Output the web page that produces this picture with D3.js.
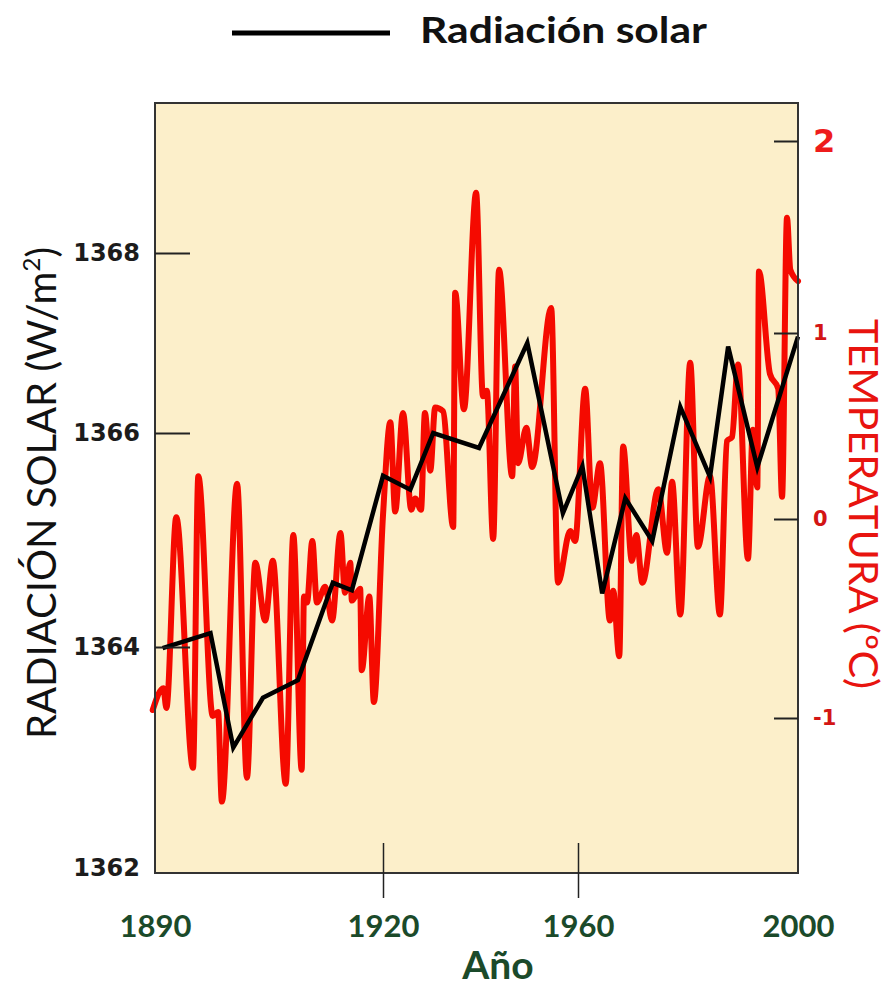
<!DOCTYPE html>
<html lang="es">
<head>
<meta charset="UTF-8">
<title>Radiación solar y temperatura</title>
<script src="https://d3js.org/d3.v7.min.js"></script>
<style>
    body { margin: 0; background: #fff; }
    svg { display: block; }
    .calibri { font-family: Lato, "Open Sans", sans-serif; }
    .verdana { font-family: "DejaVu Sans", sans-serif; font-weight: bold; }
</style>
</head>
<body>
<svg id="chart" width="888" height="989"></svg>
<script>
// Años y valores de radiación solar (W/m2), línea negra
const solarYears = [1891.0, 1897.3, 1900.3, 1904.2, 1908.8, 1913.4, 1915.9, 1920.0, 1925.6, 1930.3,
    1939.7, 1949.6, 1956.9, 1960.8, 1964.4, 1968.6, 1973.5, 1978.6, 1984.0, 1987.3, 1992.6, 2000.0];
const solarValues = [1363.99, 1364.13, 1363.09, 1363.54, 1363.70, 1364.60, 1364.53, 1365.60, 1365.47, 1366.00,
    1365.86, 1367.00, 1365.25, 1365.69, 1364.50, 1365.39, 1364.99, 1366.29, 1365.59, 1366.96, 1365.68, 1367.07];

// Años y anomalía de temperatura (ºC), línea roja
const tempYears = [1889.7, 1891.1, 1891.5, 1892.8, 1895.0, 1895.7, 1897.6, 1898.3, 1898.8, 1900.8,
    1902.1, 1903.2, 1904.5, 1905.5, 1907.2, 1908.2, 1909.3, 1909.6, 1910.0, 1910.7,
    1911.3, 1912.4, 1913.3, 1914.4, 1915.0, 1915.7, 1915.9, 1917.0, 1917.2, 1918.2,
    1918.8, 1920.0, 1921.5, 1922.5, 1924.1, 1925.8, 1926.6, 1927.8, 1928.6, 1929.7,
    1930.7, 1932.3, 1934.4, 1934.8, 1936.6, 1939.1, 1940.5, 1941.3, 1942.6, 1943.8,
    1946.5, 1947.1, 1947.7, 1949.4, 1950.6, 1954.5, 1955.9, 1958.4, 1959.4, 1961.3,
    1962.6, 1964.0, 1965.8, 1966.4, 1967.5, 1968.2, 1969.8, 1970.6, 1971.7, 1974.6,
    1976.2, 1977.1, 1978.6, 1980.4, 1981.8, 1984.0, 1985.8, 1987.1, 1988.0, 1989.1,
    1990.9, 1991.8, 1992.6, 1992.9, 1994.9, 1996.4, 1997.1, 1998.0, 1998.6, 2000.0];
const tempValues = [-0.96, -0.85, -0.95, 0.01, -1.25, 0.23, -0.99, -0.97, -1.42, 0.19,
    -1.30, -0.22, -0.51, -0.21, -1.33, -0.08, -1.26, -0.39, -0.42, -0.11,
    -0.42, -0.34, -0.51, -0.07, -0.37, -0.22, -0.41, -0.35, -0.76, -0.39,
    -0.92, 0.02, 0.52, 0.04, 0.57, 0.05, 0.11, 0.05, 0.57, 0.26,
    0.60, 0.58, -0.04, 1.21, 0.59, 1.73, 0.66, 0.69, -0.10, 1.33,
    0.23, 0.82, 0.30, 0.49, 0.28, 1.13, -0.32, -0.06, -0.11, 0.70,
    0.06, 0.30, -0.51, -0.36, -0.69, 0.39, -0.21, -0.08, -0.32, 0.16,
    -0.17, 0.20, -0.48, 0.84, -0.14, 0.23, -0.48, 0.42, 0.44, 0.83,
    -0.20, 0.48, 0.17, 1.32, 0.78, 0.70, 0.12, 1.60, 1.33, 1.27];

// Etiquetas de los ejes
const yearTicks = [1890, 1920, 1960, 2000];
const solarTicks = [1362, 1364, 1366, 1368];
const tempTicks = [-1, 0, 1, 2];

const svg = d3.select("#chart");
const box = { left: 155, right: 798, top: 103, bottom: 873 };

// Las escalas del original no son uniformes: se usan escalas lineales por tramos
const x = d3.scaleLinear().domain(yearTicks).range([155, 383, 578, 798]);
const yL = d3.scaleLinear().domain(solarTicks).range([868, 647, 433, 253]);
const yR = d3.scaleLinear().domain(tempTicks).range([718, 519, 333, 141]);

// Fondo del gráfico
svg.append("rect")
    .attr("x", box.left).attr("y", box.top)
    .attr("width", box.right - box.left).attr("height", box.bottom - box.top)
    .attr("fill", "#fcefca");

// Línea de temperatura
const tempData = tempYears.map((yr, i) => ({ yr: yr, v: tempValues[i] }));
svg.append("path")
    .datum(tempData)
    .attr("fill", "none")
    .attr("stroke", "#f50a00")
    .attr("stroke-width", 6)
    .attr("stroke-linejoin", "round")
    .attr("stroke-linecap", "round")
    .attr("d", d3.line().x(d => x(d.yr)).y(d => yR(d.v)).curve(d3.curveMonotoneX));

// Línea de radiación solar
const solarData = solarYears.map((yr, i) => ({ yr: yr, v: solarValues[i] }));
svg.append("path")
    .datum(solarData)
    .attr("fill", "none")
    .attr("stroke", "#000")
    .attr("stroke-width", 4.5)
    .attr("stroke-linejoin", "miter")
    .attr("d", d3.line().x(d => x(d.yr)).y(d => yL(d.v)));

// Marco
svg.append("rect")
    .attr("x", box.left).attr("y", box.top)
    .attr("width", box.right - box.left).attr("height", box.bottom - box.top)
    .attr("fill", "none")
    .attr("stroke", "#333")
    .attr("stroke-width", 2);

// Eje izquierdo (ticks hacia dentro)
const gL = svg.append("g")
    .attr("transform", `translate(${box.left},0)`)
    .call(d3.axisLeft(yL).tickValues(solarTicks).tickSize(-35).tickPadding(15).tickFormat(d3.format("d")));
gL.select(".domain").remove();
gL.selectAll(".tick line").attr("stroke", "#222").attr("stroke-width", 2)
    .filter(d => d === 1362).remove();
gL.selectAll(".tick text")
    .attr("class", "verdana")
    .attr("font-size", 24)
    .attr("fill", "#1c1c1c");

// Eje derecho (temperatura)
const gR = svg.append("g")
    .attr("transform", `translate(${box.right},0)`)
    .call(d3.axisRight(yR).tickValues(tempTicks).tickSize(-24).tickPadding(15).tickFormat(d3.format("d")));
gR.select(".domain").remove();
gR.selectAll(".tick line").attr("stroke", "#222").attr("stroke-width", 2);
gR.selectAll(".tick text")
    .attr("class", "verdana")
    .attr("font-size", d => d === 2 ? 32 : 21)
    .attr("fill", d => d === 2 ? "#ee1c1c" : "#d31515")
    .text(d => d < 0 ? "-" + Math.abs(d) : d);

// Eje inferior (años)
const gB = svg.append("g")
    .attr("transform", `translate(0,${box.bottom})`)
    .call(d3.axisBottom(x).tickValues(yearTicks).tickSize(25).tickPadding(30).tickFormat(d3.format("d")));
gB.select(".domain").remove();
gB.selectAll(".tick line")
    .attr("y1", -30)
    .attr("stroke", "#222").attr("stroke-width", 1.5)
    .filter(d => d === 1890 || d === 2000).remove();
gB.selectAll(".tick text")
    .attr("class", "calibri")
    .attr("font-weight", "bold")
    .attr("font-size", 31)
    .attr("fill", "#1b4a2a")
    .attr("dy", "0.3em");

// Títulos de ejes
svg.append("text")
    .attr("class", "calibri")
    .attr("transform", "translate(56,493) rotate(-90)")
    .attr("text-anchor", "middle")
    .attr("font-size", 40)
    .attr("fill", "#111")
    .text("RADIACIÓN SOLAR (W/m")
    .append("tspan").attr("font-size", 24).attr("dy", -16).text("2")
    .select(function () { return this.parentNode; })
    .append("tspan").attr("dy", 16).text(")");

svg.append("text")
    .attr("class", "calibri")
    .attr("transform", "translate(849,504) rotate(90)")
    .attr("text-anchor", "middle")
    .attr("font-size", 40)
    .attr("textLength", 370)
    .attr("lengthAdjust", "spacingAndGlyphs")
    .attr("fill", "#e8140f")
    .text("TEMPERATURA (ºC)");

svg.append("text")
    .attr("class", "calibri")
    .attr("x", 498).attr("y", 979)
    .attr("text-anchor", "middle")
    .attr("font-weight", "bold")
    .attr("font-size", 39)
    .attr("fill", "#1b4a2a")
    .text("Año");

// Leyenda
svg.append("line")
    .attr("x1", 232).attr("x2", 390).attr("y1", 33).attr("y2", 33)
    .attr("stroke", "#000").attr("stroke-width", 5);
svg.append("text")
    .attr("class", "calibri")
    .attr("x", 420).attr("y", 43)
    .attr("font-weight", "bold")
    .attr("font-size", 36)
    .attr("textLength", 287)
    .attr("lengthAdjust", "spacingAndGlyphs")
    .attr("fill", "#111")
    .text("Radiación solar");
</script>
</body>
</html>
